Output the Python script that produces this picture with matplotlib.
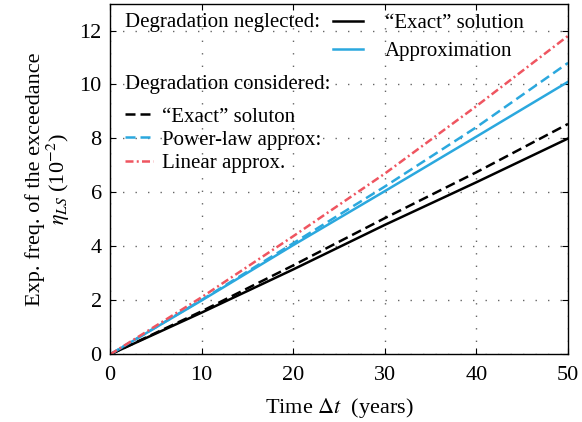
import matplotlib.pyplot as plt
import numpy as np

plt.rcParams['font.family'] = ['Liberation Serif', 'DejaVu Serif']
plt.rcParams['mathtext.fontset'] = 'stix'

# Data
t = [0, 10, 20, 30, 40, 50]
exact_neglected = [0, 1.55, 3.15, 4.8, 6.38, 8.0]
approx_neglected = [0, 2.0, 4.05, 6.05, 8.07, 10.1]
exact_considered = [0, 1.6, 3.3, 5.05, 6.75, 8.54]
powerlaw_considered = [0, 2.02, 4.12, 6.22, 8.42, 10.8]
linear_considered = [0, 2.12, 4.38, 6.7, 9.2, 11.8]

blue = "#2ba8de"
red = "#ef5560"

fig = plt.figure(figsize=(5.82, 4.22), dpi=100)
ax = fig.add_axes([0.189, 0.16, 0.787, 0.8317])

l1, = ax.plot(t, exact_neglected, "-", color="black", lw=1.8)
l2, = ax.plot(t, approx_neglected, "-", color=blue, lw=1.8)
l3, = ax.plot(t, exact_considered, "--", color="black", lw=1.8, dashes=(4, 2))
l4, = ax.plot(t, powerlaw_considered, "--", color=blue, lw=1.8, dashes=(4, 2))
l5, = ax.plot(t, linear_considered, "-.", color=red, lw=1.8, dashes=(3.2, 1.3, 0.8, 1.3))

ax.set_xlim(0, 50)
ax.set_ylim(0, 13)
ax.set_xticks([0, 10, 20, 30, 40, 50])
ax.set_yticks([0, 2, 4, 6, 8, 10, 12])
ax.grid(True, linestyle=(0, (1, 8)), color="#666666", lw=1.0)
ax.tick_params(direction="in", top=True, right=True, labelsize=16, length=4)
ax.tick_params(axis="x", pad=8)
ax.tick_params(axis="y", pad=6)
for s in ax.spines.values():
    s.set_linewidth(1.0)

ax.set_xlabel(r"Time $\Delta t$  (years)", fontsize=16, labelpad=8)
ax.set_ylabel("Exp. freq. of the exceedance\n" + r"$\eta_{LS}$ (10$^{-2}$)", fontsize=16, labelpad=5,
              linespacing=1.0)

ax.text(0.033, 0.947, "Degradation neglected:", transform=ax.transAxes, fontsize=15, va="center")
leg1 = ax.legend([l1, l2], ["\u201cExact\u201d solution", "Approximation"], loc="upper left",
                 bbox_to_anchor=(0.487, 0.972), frameon=False, fontsize=15, handlelength=1.45,
                 handletextpad=1.05, labelspacing=0.4, borderaxespad=0, borderpad=0)
ax.add_artist(leg1)
ax.text(0.033, 0.768, "Degradation considered:", transform=ax.transAxes, fontsize=15, va="center")
leg2 = ax.legend([l3, l4, l5], ["\u201cExact\u201d soluton", "Power-law approx:", "Linear approx."],
                 loc="upper left", bbox_to_anchor=(0.033, 0.705), frameon=False, fontsize=15,
                 handlelength=1.35, handletextpad=0.4, labelspacing=0.17, borderaxespad=0, borderpad=0)

fig.savefig("out.png", dpi=100)
